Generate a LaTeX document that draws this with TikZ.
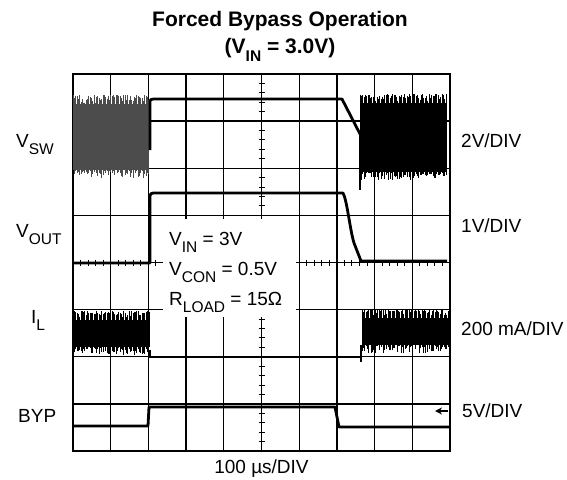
\documentclass[tikz,border=0pt]{standalone}
\usepackage{fontspec}
\setmainfont{Liberation Sans}
\usetikzlibrary{arrows.meta}
\newcommand\sbs[1]{\raisebox{-0.4em}{\fontsize{15.5}{15.5}\selectfont #1}}
\newcommand\swband[5]{%
  \fill[#5] (#1,#3+9) rectangle (#2,#4-8);
  \pgfmathtruncatemacro\nn{(#2-#1)/1.3}%
  \foreach \i in {0,...,\nn}{%
    \pgfmathsetmacro\xx{#1+\i*1.3}%
    \pgfmathsetmacro\ya{#3+9*rnd*rnd}%
    \pgfmathsetmacro\yb{#4-8*rnd}%
    \draw[#5,line width=0.6pt] (\xx,\ya) -- (\xx,\yb);
  }%
}
\begin{document}
\begin{tikzpicture}[x=1pt,y=-1pt,
  lbl/.style={font=\fontsize{19}{21}\selectfont, inner sep=0pt, anchor=base west},
  ttl/.style={font=\bfseries\fontsize{21}{23}\selectfont, inner sep=0pt, anchor=base},
  gridline/.style={line width=1.3pt},
  trace/.style={line width=2.8pt, line join=round},
  tickmark/.style={line width=1pt}]
\pgfmathsetseed{3}
\useasboundingbox (0,0) rectangle (567,479);
\fill[white] (0,0) rectangle (567,479);
% grid
\foreach \i in {1,...,9} \draw[gridline] ({73+37.7*\i},74) -- ({73+37.7*\i},451);
\foreach \j in {1,...,7} \draw[gridline] (73,{74+47.125*\j}) -- (450,{74+47.125*\j});
\draw[line width=1.8pt] (73,74) rectangle (450,451);
\foreach \k in {1,...,39} \draw[tickmark] (258.5,{74+9.425*\k}) -- (264.5,{74+9.425*\k});
\foreach \k in {1,...,49} \draw[tickmark] ({73+7.54*\k},259.5) -- ({73+7.54*\k},265.5);
% legend box
\fill[white] (163,219) rectangle (296,317);
\node[lbl] (vin) at (169,245) {V\sbs{IN} = 3V};
\node[lbl] (vcon) at (169,275) {V\sbs{CON} = 0.5V};
\node[lbl] (rload) at (169,305) {R\sbs{LOAD} = 15Ω};
% V_SW
\swband{73}{149}{95}{178}{black!70}
\draw[trace] (150,150) -- (150,104) .. controls (150,99) .. (157,99) -- (342,99) -- (360,134);
\swband{360}{447}{94}{180}{black}
\draw[line width=1.2pt] (360,134) -- (360,190);
% V_OUT
\draw[trace] (73,263) -- (150,263) -- (150,199) .. controls (150,193) .. (157,193) -- (343,193) .. controls (347,200) and (350,230) .. (354,243) -- (361,261) -- (447,261);
% I_L
\swband{73}{150}{311}{355}{black}
\draw[line width=1.2pt] (150,350) -- (150,358);
\draw[trace] (150,357) -- (360,357);
\swband{362}{448}{309}{353}{black}
\draw[line width=1.2pt] (361,345) -- (361,362);
% BYP
\draw[trace] (73,426) -- (148,426) -- (149,407) -- (335,407) -- (339,427) -- (450,427);
% labels
\node[lbl] (vsw) at (16,147) {V\sbs{SW}};
\node[lbl] (vout) at (16,237) {V\sbs{OUT}};
\node[lbl] (il) at (31,323) {I\sbs{L}};
\node[lbl] (byp) at (18,422) {BYP};
\node[lbl] (d1) at (461,147) {2V/DIV};
\node[lbl] (d2) at (461,232) {1V/DIV};
\node[lbl] (d3) at (461,335) {200 mA/DIV};
\node[lbl] (d4) at (462,417) {5V/DIV};
\coordinate (a0) at (448,411);
\coordinate (a1) at (435,411);
\draw[-{Stealth[length=7pt,width=7pt]}, line width=1.3pt] (a0) -- (a1);
\node[lbl, anchor=base] (tb) at (261.5,473) {100 µs/DIV};
\node[ttl] (t1) at (280,27) {Forced Bypass Operation};
\node[ttl] (t2) at (280,53) {(V\sbs{IN} = 3.0V)};
\end{tikzpicture}
\end{document}
